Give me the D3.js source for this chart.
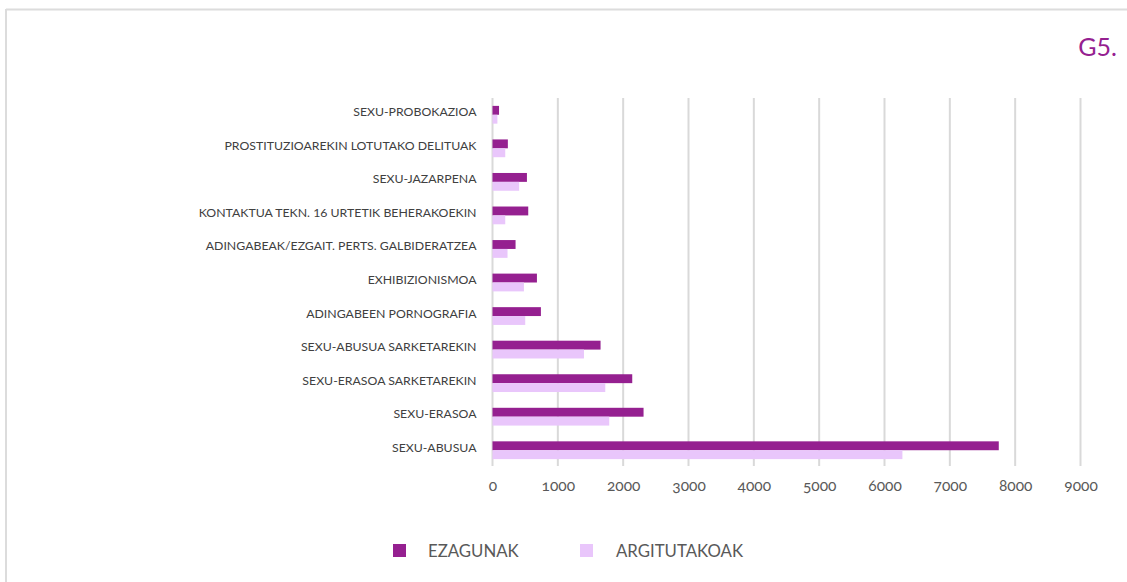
<!DOCTYPE html>
<html><head><meta charset="utf-8">
<script src="https://cdn.jsdelivr.net/npm/d3@7"></script>
<style>
body{margin:0;background:#fff;}
text{font-family:Lato,"Open Sans",sans-serif;}
</style></head>
<body><svg id="c" width="1127" height="582"></svg>
<script>
const categories = ["SEXU-PROBOKAZIOA","PROSTITUZIOAREKIN LOTUTAKO DELITUAK","SEXU-JAZARPENA","KONTAKTUA TEKN. 16 URTETIK BEHERAKOEKIN","ADINGABEAK/EZGAIT. PERTS. GALBIDERATZEA","EXHIBIZIONISMOA","ADINGABEEN PORNOGRAFIA","SEXU-ABUSUA SARKETAREKIN","SEXU-ERASOA SARKETAREKIN","SEXU-ERASOA","SEXU-ABUSUA"];
const ezagunak = [100, 235, 527, 547, 353, 680, 741, 1654, 2139, 2312, 7749];
const argitutakoak = [75, 195, 408, 195, 230, 481, 501, 1400, 1726, 1787, 6274];
const seriesNames = ["EZAGUNAK","ARGITUTAKOAK"];
const seriesColors = ["#952090","#e9c6fb"];
const ticks = [0,1000,2000,3000,4000,5000,6000,7000,8000,9000];
const title = "G5.";

const svg = d3.select("#c");
// frame
svg.append("line").attr("x1",6).attr("x2",1127).attr("y1",9.5).attr("y2",9.5).attr("stroke","#dcdcdc").attr("stroke-width",2);
svg.append("line").attr("x1",6).attr("x2",6).attr("y1",9).attr("y2",582).attr("stroke","#dcdcdc").attr("stroke-width",2);

svg.append("text").attr("x",1117).attr("y",56).attr("text-anchor","end").attr("fill","#952090").attr("font-size",25).text(title);

const x = d3.scaleLinear().domain([0,9000]).range([492.5,1080.5]);
const y = d3.scaleBand().domain(categories).range([98,467]).paddingInner(0.47).paddingOuter(0.235);
const ys = d3.scaleBand().domain(seriesNames).range([0,y.bandwidth()]);

// grid
svg.append("g").selectAll("line").data(ticks).join("line")
  .attr("x1",d=>x(d)).attr("x2",d=>x(d)).attr("y1",98).attr("y2",466)
  .attr("stroke","#d9d9d9").attr("stroke-width",2);

const xAxis = d3.axisBottom(x).tickValues(ticks).tickSize(0).tickPadding(0).tickFormat(d3.format("d"));
const gx = svg.append("g").attr("transform","translate(0,478)").call(xAxis);
gx.select(".domain").remove();
gx.selectAll("text").attr("fill","#595959").attr("font-size",15.5).style("font-variant-numeric","oldstyle-nums").attr("dy","0.85em");

const yAxis = d3.axisLeft(y).tickSize(0).tickPadding(16);
const gy = svg.append("g").attr("transform","translate(492.5,0)").call(yAxis);
gy.select(".domain").remove();
gy.selectAll("text").attr("fill","#404040").attr("font-size",12.3).attr("dy","0.12em");

const data = categories.map((c,i)=>({c, vals:[ezagunak[i], argitutakoak[i]]}));
const groups = svg.append("g").selectAll("g").data(data).join("g").attr("transform",d=>`translate(0,${y(d.c)})`);
groups.selectAll("rect").data(d=>d.vals.map((v,j)=>({v,s:seriesNames[j],j}))).join("rect")
  .attr("x",x(0)).attr("y",d=>ys(d.s)).attr("width",d=>x(d.v)-x(0)).attr("height",ys.bandwidth())
  .attr("fill",d=>seriesColors[d.j]);

// legend
const legX = [393, 580], legTX = [428, 616];
const lg = svg.append("g").selectAll("g").data(seriesNames).join("g");
lg.append("rect").attr("x",(d,i)=>legX[i]).attr("y",544).attr("width",13).attr("height",13).attr("fill",(d,i)=>seriesColors[i]);
lg.append("text").attr("x",(d,i)=>legTX[i]).attr("y",556.5).attr("fill","#595959").attr("font-size",16.8).text(d=>d);
</script></body></html>
